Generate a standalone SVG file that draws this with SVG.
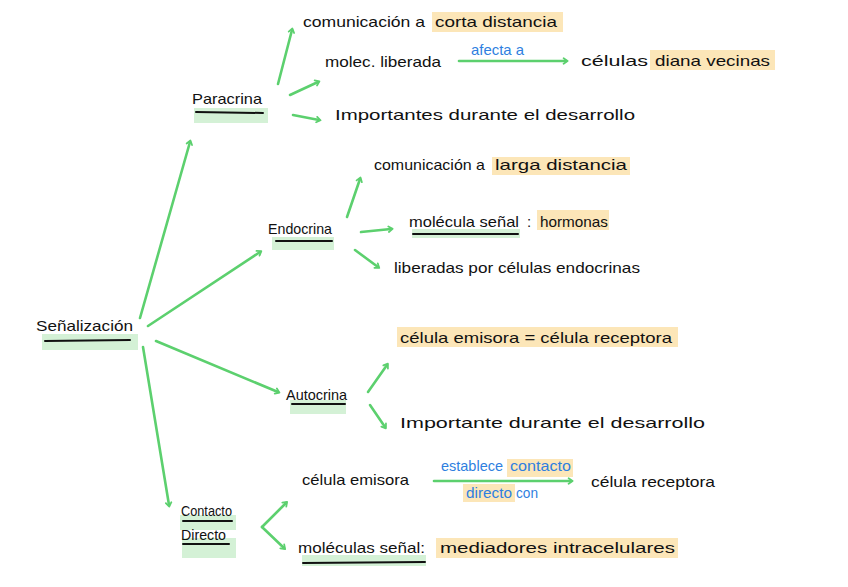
<svg xmlns="http://www.w3.org/2000/svg" width="848" height="587" viewBox="0 0 848 587">
<defs>
<style>
text{font-family:"Liberation Sans","DejaVu Sans",sans-serif;font-size:15px;fill:#111}
.b{fill:#2f7fe0}
.yh{fill:#fce6b8}
.gh{fill:#d4f1d6}
.ul{stroke:#111;stroke-width:2;stroke-linecap:round;fill:none}
.c{stroke:#5cd06e;stroke-width:2.6;stroke-linecap:round;stroke-linejoin:round;fill:none}
</style>
<marker id="ah" viewBox="0 0 10 10" refX="5" refY="5" markerWidth="8" markerHeight="8" orient="auto" markerUnits="userSpaceOnUse">
<path d="M2,1.5 L7,5 L2,8.5" fill="none" stroke="#5cd06e" stroke-width="2.2" stroke-linecap="round" stroke-linejoin="round"/>
</marker>
</defs>
<rect width="848" height="587" fill="#fff"/>

<g id="connectors">
<path class="c" d="M140,318 L190,142" marker-end="url(#ah)"/>
<path class="c" d="M148,326 L260,252" marker-end="url(#ah)"/>
<path class="c" d="M156,341 L278,392" marker-end="url(#ah)"/>
<path class="c" d="M143,347 L169,505" marker-end="url(#ah)"/>
<path class="c" d="M278,84 L292,30" marker-end="url(#ah)"/>
<path class="c" d="M290,95 L318,82" marker-end="url(#ah)"/>
<path class="c" d="M293,115 L319,120" marker-end="url(#ah)"/>
<path class="c" d="M459,61 L566,61" marker-end="url(#ah)"/>
<path class="c" d="M347,217 L360,179" marker-end="url(#ah)"/>
<path class="c" d="M361,232 L391,229" marker-end="url(#ah)"/>
<path class="c" d="M355,250 L378,267" marker-end="url(#ah)"/>
<path class="c" d="M368,392 L387,365" marker-end="url(#ah)"/>
<path class="c" d="M370,405 L385,427" marker-end="url(#ah)"/>
<path class="c" d="M434,481 L571,481" marker-end="url(#ah)"/>
<path class="c" d="M262,527 L286,503" marker-end="url(#ah)"/>
<path class="c" d="M262,527 L284,548" marker-end="url(#ah)"/>
</g>

<g id="senalizacion">
<rect class="gh" x="42" y="334" width="96" height="16"/>
<text x="36" y="331" textLength="97" lengthAdjust="spacingAndGlyphs">Señalización</text>
<path class="ul" d="M45,341 L130,340"/>
</g>

<g id="paracrina">
<rect class="gh" x="194" y="108" width="74" height="15"/>
<text x="192" y="104" textLength="70" lengthAdjust="spacingAndGlyphs">Paracrina</text>
<path class="ul" d="M196,112 L263,113"/>
</g>

<g id="p-comunicacion">
<rect class="yh" x="432" y="12" width="131" height="20"/>
<text x="303" y="27" textLength="122" lengthAdjust="spacingAndGlyphs">comunicación a</text>
<text x="435" y="27" textLength="122" lengthAdjust="spacingAndGlyphs">corta distancia</text>
</g>

<g id="p-molec">
<text x="325" y="67" textLength="116" lengthAdjust="spacingAndGlyphs">molec. liberada</text>
</g>

<g id="p-afecta">
<text class="b" x="471" y="55" textLength="53" lengthAdjust="spacingAndGlyphs">afecta a</text>
</g>

<g id="p-celulas">
<rect class="yh" x="650" y="50" width="125" height="20"/>
<text x="581" y="66" textLength="67" lengthAdjust="spacingAndGlyphs">células</text>
<text x="655" y="66" textLength="115" lengthAdjust="spacingAndGlyphs">diana vecinas</text>
</g>

<g id="p-importantes">
<text x="335" y="120" textLength="300" lengthAdjust="spacingAndGlyphs">Importantes durante el desarrollo</text>
</g>

<g id="endocrina">
<rect class="gh" x="272" y="237" width="62" height="13"/>
<text x="268" y="234" textLength="64" lengthAdjust="spacingAndGlyphs">Endocrina</text>
<path class="ul" d="M276,241 L332,241"/>
</g>

<g id="e-comunicacion">
<rect class="yh" x="492" y="157" width="138" height="18"/>
<text x="374" y="170" textLength="111" lengthAdjust="spacingAndGlyphs">comunicación a</text>
<text x="495" y="170" textLength="132" lengthAdjust="spacingAndGlyphs">larga distancia</text>
</g>

<g id="e-molecula">
<rect class="gh" x="412" y="229" width="108" height="9"/>
<text x="409" y="227" textLength="110" lengthAdjust="spacingAndGlyphs">molécula señal</text>
<path class="ul" d="M413,234 L518,234"/>
<text x="527" y="227">:</text>
<rect class="yh" x="537" y="210" width="72" height="20"/>
<text x="540" y="227" textLength="68" lengthAdjust="spacingAndGlyphs">hormonas</text>
</g>

<g id="e-liberadas">
<text x="394" y="273" textLength="246" lengthAdjust="spacingAndGlyphs">liberadas por células endocrinas</text>
</g>

<g id="autocrina">
<rect class="gh" x="290" y="400" width="56" height="14"/>
<text x="286" y="400" textLength="61" lengthAdjust="spacingAndGlyphs">Autocrina</text>
<path class="ul" d="M292,404 L345,404"/>
</g>

<g id="a-celula">
<rect class="yh" x="397" y="327" width="281" height="20"/>
<text x="400" y="343" textLength="272" lengthAdjust="spacingAndGlyphs">célula emisora = célula receptora</text>
</g>

<g id="a-importante">
<text x="400" y="428" textLength="305" lengthAdjust="spacingAndGlyphs">Importante durante el desarrollo</text>
</g>

<g id="contacto">
<rect class="gh" x="180" y="515" width="56" height="15"/>
<rect class="gh" x="182" y="538" width="54" height="20"/>
<text x="181" y="516" textLength="51" lengthAdjust="spacingAndGlyphs">Contacto</text>
<path class="ul" d="M183,521 L232,521"/>
<text x="181" y="540" textLength="45" lengthAdjust="spacingAndGlyphs">Directo</text>
<path class="ul" d="M183,544 L229,544"/>
</g>

<g id="c-emisora">
<text x="302" y="485" textLength="107" lengthAdjust="spacingAndGlyphs">célula emisora</text>
</g>

<g id="c-establece">
<rect class="yh" x="507" y="459" width="66" height="18"/>
<rect class="yh" x="463" y="484" width="52" height="18"/>
<text class="b" x="441" y="471" textLength="62" lengthAdjust="spacingAndGlyphs">establece</text>
<text class="b" x="510" y="471" textLength="61" lengthAdjust="spacingAndGlyphs">contacto</text>
<text class="b" x="466" y="498" textLength="46" lengthAdjust="spacingAndGlyphs">directo</text>
<text class="b" x="516" y="498" textLength="22" lengthAdjust="spacingAndGlyphs">con</text>
</g>

<g id="c-receptora">
<text x="591" y="487" textLength="124" lengthAdjust="spacingAndGlyphs">célula receptora</text>
</g>

<g id="c-moleculas">
<rect class="gh" x="302" y="555" width="124" height="11"/>
<text x="298" y="553" textLength="127" lengthAdjust="spacingAndGlyphs">moléculas señal:</text>
<path class="ul" d="M303,563 L425,562"/>
</g>

<g id="c-mediadores">
<rect class="yh" x="436" y="538" width="242" height="20"/>
<text x="440" y="553" textLength="235" lengthAdjust="spacingAndGlyphs">mediadores intracelulares</text>
</g>
</svg>
